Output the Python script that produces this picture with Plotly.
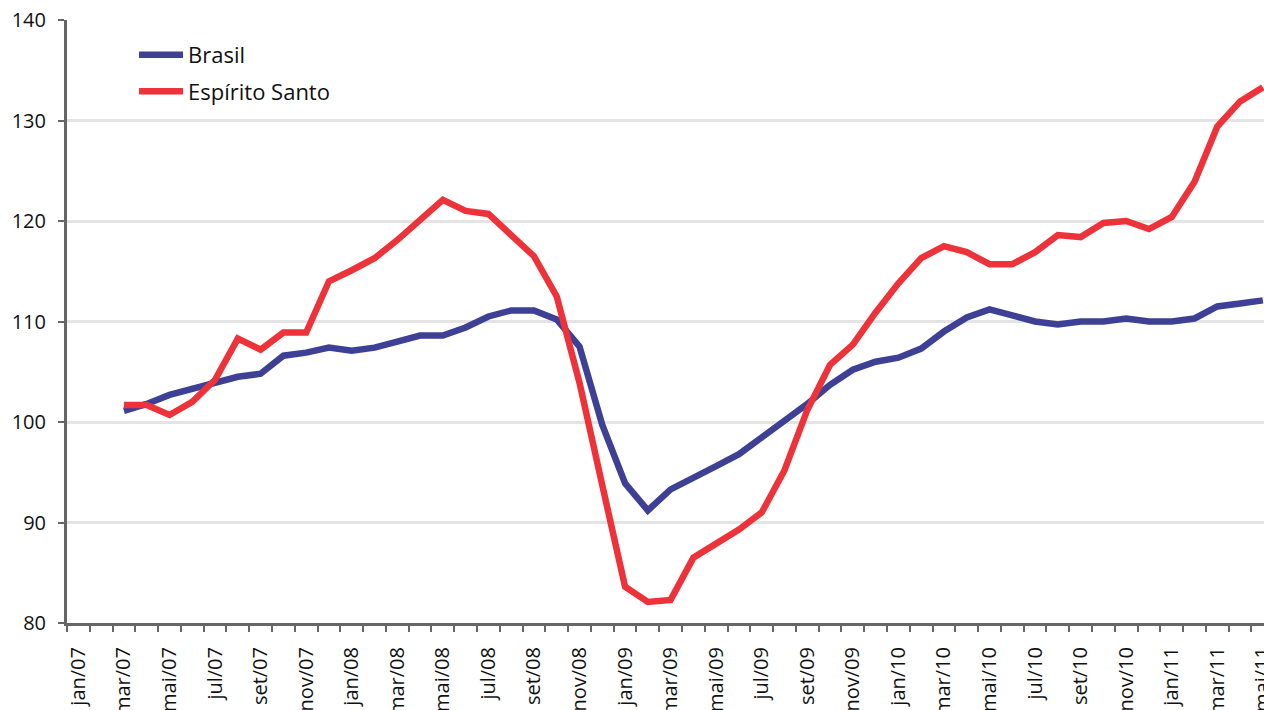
import plotly.graph_objects as go

# month categories on the axis (jan/07 .. mai/11)
meses = ["jan", "fev", "mar", "abr", "mai", "jun", "jul", "ago", "set", "out", "nov", "dez"]
categorias = [f"{m}/{a}" for a in ["07", "08", "09", "10", "11"] for m in meses][:53]

# series start in mar/07
inicio = "mar/07"

brasil = [101.1, 101.8, 102.7, 103.3, 103.9, 104.5, 104.8, 106.6, 106.9,
          107.4, 107.1, 107.4, 108.0, 108.6, 108.6, 109.4, 110.5, 111.1, 111.1,
          110.2, 107.5, 99.7, 93.9, 91.2, 93.3, 94.4, 95.6, 96.8, 98.5,
          100.0, 101.8, 103.7, 105.2, 106.0, 106.4, 107.3, 109.0, 110.4, 111.2,
          110.6, 110.0, 109.7, 110.0, 110.0, 110.3, 110.0, 110.0, 110.3, 111.5,
          111.8, 112.1]

espirito_santo = [101.7, 101.7, 100.7, 102.0, 104.2, 108.3, 107.2, 108.9, 108.9,
                  114.0, 115.1, 116.3, 118.1, 120.1, 122.1, 121.0, 120.7, 118.6, 116.5,
                  112.5, 103.9, 93.7, 83.6, 82.1, 82.3, 86.5, 87.9, 89.3, 91.0,
                  95.2, 101.2, 105.7, 107.7, 110.9, 113.8, 116.3, 117.5, 116.9, 115.7,
                  115.7, 116.9, 118.6, 118.4, 119.8, 120.0, 119.2, 120.4, 123.9, 129.4,
                  131.9, 133.3]

y_ticks = [80, 90, 100, 110, 120, 130, 140]

k0 = categorias.index(inicio)
x = list(range(k0, k0 + len(brasil)))

fig = go.Figure()

fig.add_trace(go.Scatter(
    x=x, y=brasil, name="Brasil", mode="lines", legendgroup="br",
    line=dict(color="#3D4095", width=6.5),
))
fig.add_trace(go.Scatter(
    x=x, y=espirito_santo, name="Espírito Santo", mode="lines", legendgroup="es",
    line=dict(color="#EE3239", width=6.5),
))

label_idx = list(range(0, len(categorias), 2))

fig.update_layout(
    width=1264, height=710,
    margin=dict(l=67, r=0, t=20, b=87),
    plot_bgcolor="white", paper_bgcolor="white",
    font=dict(family="Open Sans", size=20, color="#111111"),
    showlegend=True,
    legend=dict(
        x=0.056, y=0.977, xanchor="left", yanchor="top",
        font=dict(size=22), bgcolor="rgba(0,0,0,0)",
        itemwidth=44, tracegroupgap=5,
    ),
    xaxis=dict(
        range=[-0.5, 52.05],
        automargin=False,
        tickmode="array",
        tickvals=label_idx,
        ticktext=[categorias[i] for i in label_idx],
        tickangle=-90,
        ticks="outside", ticklen=0,
        ticklabelstandoff=13,
        ticklabeloverflow="allow",
        showgrid=False, zeroline=False,
        showline=True, linecolor="#666666", linewidth=3,
        minor=dict(tick0=-0.5, dtick=1, ticks="outside", ticklen=6,
                   tickcolor="#666666", tickwidth=2, showgrid=False),
    ),
    yaxis=dict(
        range=[80, 140],
        automargin=False,
        tickmode="array", tickvals=y_ticks,
        ticks="outside", ticklen=6, tickcolor="#666666", tickwidth=2,
        showgrid=True, gridcolor="#E4E4E4", gridwidth=3,
        zeroline=False,
        showline=True, linecolor="#666666", linewidth=3,
        ticklabelstandoff=8,
        ticklabeloverflow="allow",
    ),
)

# drop the default page margin so the figure sits at the top-left corner
fig.write_html("out.html", config={"displayModeBar": False},
               post_script="document.body.style.margin='0';")
